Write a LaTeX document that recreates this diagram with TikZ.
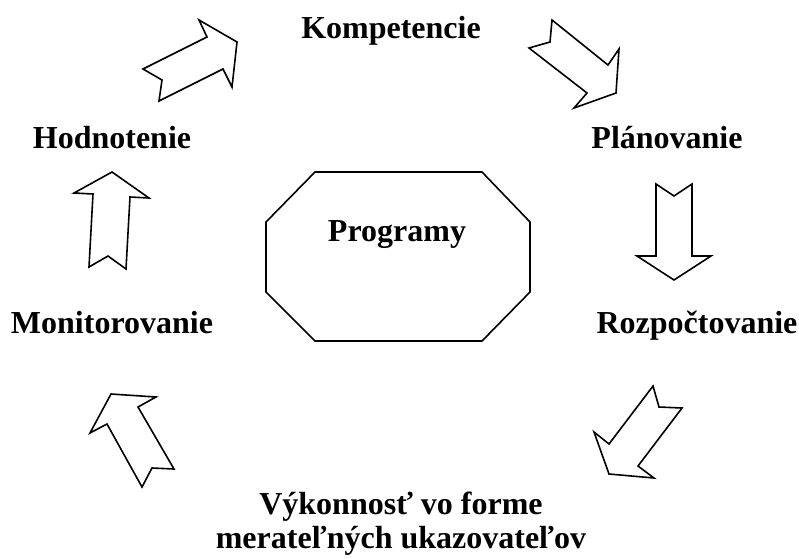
\documentclass[tikz,border=0pt]{standalone}
\usepackage{fontspec}
\setmainfont{Liberation Serif}
\begin{document}
\begin{tikzpicture}[x=1pt,y=-1pt,
  lbl/.style={font=\fontsize{32}{33}\selectfont\bfseries, inner sep=0pt, anchor=base},
  blockarrow/.style={draw=black, line width=1.6pt, line join=miter, fill=white}]
\useasboundingbox (0,0) rectangle (799,558);
% labels
\node[lbl] (komp) at (391,38) {Kompetencie};
\node[lbl] (plan) at (667,148) {Plánovanie};
\node[lbl] (rozp) at (697,333) {Rozpočtovanie};
\node[lbl] (hodn) at (112,148) {Hodnotenie};
\node[lbl] (moni) at (112,333) {Monitorovanie};
\node[lbl, font=\fontsize{32}{34}\selectfont\bfseries, align=center, anchor=center] (vyk) at (401,524) {Výkonnosť vo forme\\merateľných ukazovateľov};
% central octagon
\draw[blockarrow] (315,172) -- (482,172) -- (530,222) -- (530,292) -- (482,341) -- (315,341) -- (266,292) -- (266,222) -- cycle;
\node[lbl] (prog) at (397,241) {Programy};
% block arrows
\draw[blockarrow] (143,69) -- (207,37) -- (199,20) -- (237,42) -- (232,87) -- (223,69) -- (159,101) -- (162,80) -- cycle;
\draw[blockarrow] (552,20) -- (550,42) -- (529,48) -- (587,93) -- (574,108) -- (616,93) -- (619,49) -- (608,65) -- cycle;
\draw[blockarrow] (656,184) -- (674,196) -- (692,184) -- (692,256) -- (711,256) -- (674,280) -- (637,256) -- (656,256) -- cycle;
\draw[blockarrow] (653,386) -- (659,407) -- (682,408) -- (638,466) -- (654,478) -- (609,474) -- (594,432) -- (609,444) -- cycle;
\draw[blockarrow] (111,394) -- (156,397) -- (138,407) -- (174,469) -- (152,468) -- (142,487) -- (107,424) -- (90,433) -- cycle;
\draw[blockarrow] (112,172) -- (149,198) -- (130,197) -- (126,269) -- (108,256) -- (89,267) -- (93,194) -- (74,193) -- cycle;
\end{tikzpicture}
\end{document}
